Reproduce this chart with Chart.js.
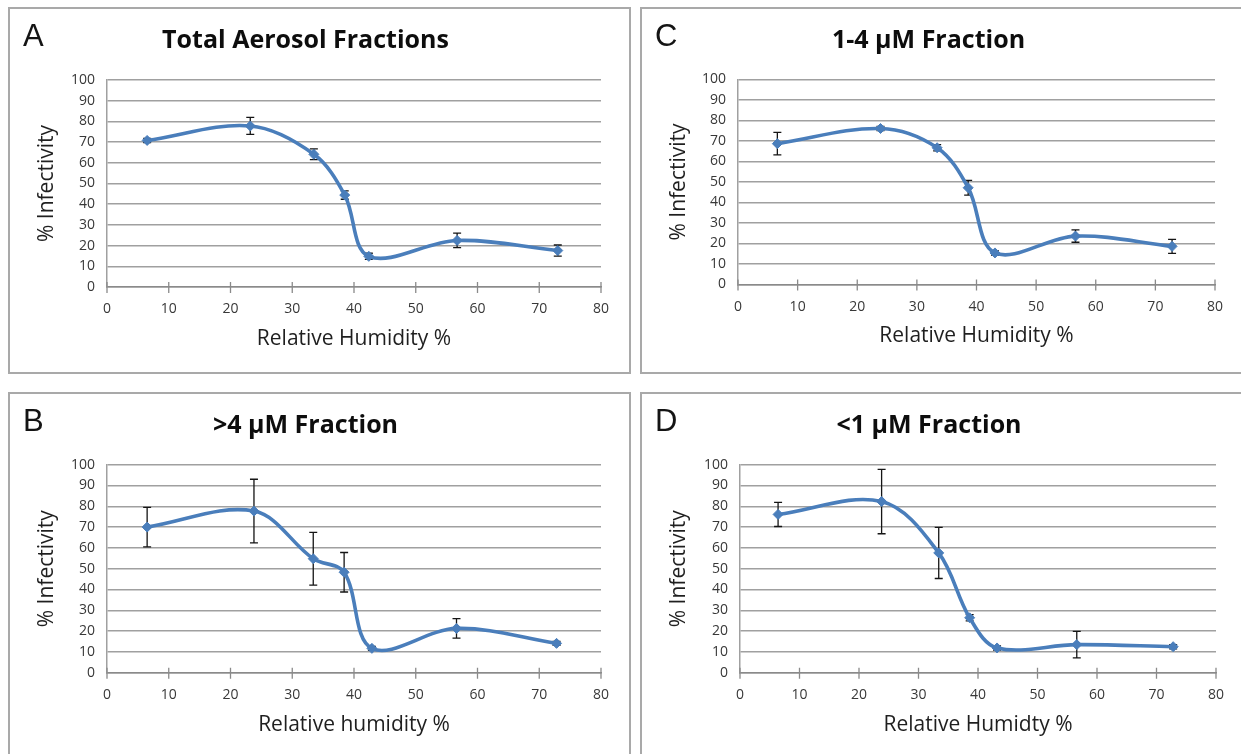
<!DOCTYPE html>
<html>
<head>
<meta charset="utf-8">
<script src="https://cdn.jsdelivr.net/npm/chart.js@4.4.0/dist/chart.umd.min.js"></script>
<style>
  body { margin: 0; width: 1241px; height: 754px; overflow: hidden; background: #fff; position: relative; }
  .box { position: absolute; border: 2px solid #a9a9a9; box-sizing: border-box; }
  .box canvas { position: absolute; left: 0; top: 0; }
</style>
</head>
<body>
<div class="box" style="left:8px;top:7px;width:623px;height:367px"><canvas id="chartA" width="619" height="363"></canvas></div>
<div class="box" style="left:640px;top:7px;width:603px;height:367px"><canvas id="chartC" width="599" height="363"></canvas></div>
<div class="box" style="left:8px;top:392px;width:623px;height:370px"><canvas id="chartB" width="619" height="360"></canvas></div>
<div class="box" style="left:640px;top:392px;width:603px;height:370px"><canvas id="chartD" width="599" height="360"></canvas></div>

<script>
// values (x = relative humidity %, y = % infectivity, err = +/- bar)
const humidityA = [6.5, 23.2, 33.5, 38.5, 42.4, 56.7, 73.0];
const infectA   = [70.8, 77.8, 64.1, 44.4, 14.8, 22.5, 17.6];
const errA      = [1.0, 4.1, 2.6, 2.0, 1.5, 3.5, 2.7];

const humidityC = [6.6, 23.9, 33.4, 38.6, 43.1, 56.6, 72.8];
const infectC   = [68.7, 76.1, 66.7, 47.2, 15.4, 23.6, 18.6];
const errC      = [5.5, 1.0, 1.5, 3.6, 1.0, 3.0, 3.4];

const humidityB = [6.5, 23.8, 33.4, 38.4, 42.9, 56.6, 72.8];
const infectB   = [70.0, 77.7, 54.8, 48.3, 11.7, 21.3, 14.1];
const errB      = [9.5, 15.3, 12.7, 9.5, 1.0, 4.7, 1.0];

const humidityD = [6.4, 23.8, 33.4, 38.6, 43.2, 56.6, 72.8];
const infectD   = [76.1, 82.3, 57.6, 26.4, 11.9, 13.5, 12.5];
const errD      = [5.8, 15.5, 12.3, 1.5, 1.0, 6.4, 1.0];

const xTicks = [0, 10, 20, 30, 40, 50, 60, 70, 80];
const yTicks = [0, 10, 20, 30, 40, 50, 60, 70, 80, 90, 100];

Chart.defaults.font.family = '"Open Sans", Lato, sans-serif';

const BLUE = '#4a7ebb';

// Error bars drawn behind the markers
const errorBars = {
  id: 'errorBars',
  beforeDatasetsDraw(chart, args, opts) {
    const { ctx, scales: { x, y } } = chart;
    ctx.save();
    ctx.strokeStyle = '#151515';
    ctx.lineWidth = 1.3;
    chart.data.datasets[0].data.forEach((p, i) => {
      const e = opts.errors[i];
      const px = x.getPixelForValue(p.x);
      const top = y.getPixelForValue(p.y + e);
      const bot = y.getPixelForValue(p.y - e);
      ctx.beginPath();
      ctx.moveTo(px, top); ctx.lineTo(px, bot);
      ctx.moveTo(px - 4, top); ctx.lineTo(px + 4, top);
      ctx.moveTo(px - 4, bot); ctx.lineTo(px + 4, bot);
      ctx.stroke();
    });
    ctx.restore();
  }
};

// Excel style "cross" tick marks on the x axis
const crossTicks = {
  id: 'crossTicks',
  afterDraw(chart) {
    const { ctx, scales: { x, y } } = chart;
    const y0 = y.getPixelForValue(0);
    ctx.save();
    ctx.strokeStyle = '#8a8a8a';
    ctx.lineWidth = 1.3;
    ctx.beginPath();
    x.ticks.forEach(t => {
      const px = x.getPixelForValue(t.value);
      ctx.moveTo(px, y0 - 5);
      ctx.lineTo(px, y0 + 6);
    });
    ctx.stroke();
    ctx.restore();
  }
};

// Panel letter (A, B, C, D)
const panelLetter = {
  id: 'panelLetter',
  afterDraw(chart, args, opts) {
    const ctx = chart.ctx;
    ctx.save();
    ctx.font = '31px "Liberation Sans", Arial, sans-serif';
    ctx.fillStyle = '#141414';
    ctx.textBaseline = 'alphabetic';
    ctx.fillText(opts.text, opts.x, opts.y);
    ctx.restore();
  }
};

function makePanel(id, letter, title, xTitle, xs, ys, errs, box) {
  const canvas = document.getElementById(id);
  const titleLH = 25 * 1.2;
  const titleTop = 32 - titleLH / 2;
  const xScaleH = 66;
  const axisLH = 21 * 1.2;

  new Chart(canvas, {
    type: 'line',
    data: {
      datasets: [{
        data: xs.map((v, i) => ({ x: v, y: ys[i] })),
        borderColor: BLUE,
        backgroundColor: BLUE,
        borderWidth: 3.6,
        tension: 0.35,
        pointStyle: 'rectRot',
        pointRadius: 5,
        pointBorderWidth: 1,
        pointBorderColor: BLUE,
        pointBackgroundColor: BLUE
      }]
    },
    plugins: [errorBars, crossTicks, panelLetter],
    options: {
      responsive: false,
      animation: false,
      layout: {
        padding: { left: 0, right: canvas.width - box.right, top: 0, bottom: canvas.height - box.bottom - xScaleH }
      },
      plugins: {
        legend: { display: false },
        tooltip: { enabled: false },
        title: {
          display: true,
          text: title,
          color: '#0d0d0d',
          font: { size: 25, weight: 'bold', lineHeight: 1.2 },
          padding: { top: titleTop, bottom: box.top - titleTop - titleLH }
        },
        errorBars: { errors: errs },
        panelLetter: { text: letter, x: 13, y: 37 }
      },
      scales: {
        x: {
          type: 'linear',
          min: 0, max: 80,
          afterBuildTicks: s => { s.ticks = xTicks.map(v => ({ value: v })); },
          afterFit: s => { s.height = xScaleH; },
          grid: { display: false, drawTicks: false },
          border: { display: true, color: '#8a8a8a', width: 1.5 },
          ticks: { color: '#383838', font: { size: 14 }, padding: 14 },
          title: {
            display: true,
            text: xTitle,
            color: '#1f1f1f',
            font: { size: 21, lineHeight: 1.2 },
            padding: { top: 0, bottom: 66 - 52 - axisLH / 2 }
          }
        },
        y: {
          type: 'linear',
          min: 0, max: 100,
          afterBuildTicks: s => { s.ticks = yTicks.map(v => ({ value: v })); },
          afterFit: s => { s.width = box.left; },
          grid: { color: '#a0a0a0', lineWidth: 1.5, drawTicks: false },
          border: { display: true, color: '#a0a0a0', width: 1.5 },
          ticks: { color: '#383838', font: { size: 14 }, padding: 12 },
          title: {
            display: true,
            text: '% Infectivity',
            color: '#1f1f1f',
            font: { size: 21, lineHeight: 1.2 },
            padding: { top: 37 - axisLH / 2, bottom: 0 }
          }
        }
      }
    }
  });
}

makePanel('chartA', 'A', 'Total Aerosol Fractions', 'Relative Humidity %',
  humidityA, infectA, errA, { left: 97, right: 591, top: 71, bottom: 278 });
makePanel('chartC', 'C', '1-4 \u00b5M Fraction', 'Relative Humidity %',
  humidityC, infectC, errC, { left: 96, right: 573, top: 70.5, bottom: 275.5 });
makePanel('chartB', 'B', '>4 \u00b5M Fraction', 'Relative humidity %',
  humidityB, infectB, errB, { left: 97, right: 591, top: 70.7, bottom: 278.7 });
makePanel('chartD', 'D', '<1 \u00b5M Fraction', 'Relative Humidty %',
  humidityD, infectD, errD, { left: 98, right: 574, top: 70.7, bottom: 278.7 });
</script>
</body>
</html>
